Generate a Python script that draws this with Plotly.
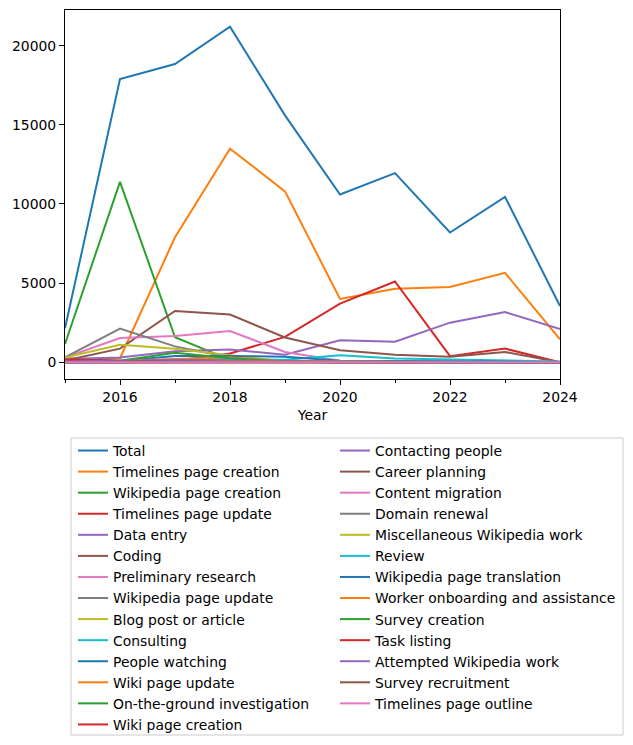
import plotly.graph_objects as go

years = [2015, 2016, 2017, 2018, 2019, 2020, 2021, 2022, 2023, 2024]

total = [2150, 17900, 18850, 21200, 15600, 10600, 11950, 8200, 10450, 3550]
timelines_page_creation = [0, 250, 7900, 13500, 10800, 4000, 4650, 4750, 5650, 1450]
wikipedia_page_creation = [1150, 11400, 1580, 150, 30, 0, 0, 0, 0, 0]
timelines_page_update = [250, 80, 100, 550, 1600, 3700, 5100, 380, 860, 0]
data_entry = [200, 300, 700, 800, 480, 1390, 1300, 2500, 3170, 2100]
coding = [100, 860, 3240, 3010, 1560, 760, 470, 350, 650, 0]
preliminary_research = [300, 1530, 1650, 1975, 650, 100, 50, 30, 20, 0]
wikipedia_page_update = [300, 2130, 1000, 300, 50, 0, 0, 0, 0, 0]
blog_post_or_article = [300, 1100, 850, 450, 30, 0, 0, 0, 0, 0]
consulting = [50, 50, 150, 200, 150, 440, 230, 180, 100, 50]
people_watching = [100, 80, 400, 400, 340, 100, 80, 60, 40, 0]
wiki_page_update = [50, 100, 200, 300, 50, 0, 0, 0, 0, 0]
on_the_ground_investigation = [100, 100, 600, 250, 50, 0, 0, 0, 0, 0]
wiki_page_creation = [150, 50, 100, 80, 50, 20, 0, 0, 0, 0]
contacting_people = [50, 100, 150, 100, 50, 40, 20, 20, 20, 0]
career_planning = [0, 50, 100, 80, 50, 30, 20, 20, 10, 0]
content_migration = [0, 0, 10, 10, 0, 0, 0, 0, 0, 0]
domain_renewal = [20, 20, 20, 20, 20, 20, 20, 20, 20, 0]
misc_wikipedia_work = [0, 30, 50, 50, 20, 0, 0, 0, 0, 0]
review = [0, 0, 0, 30, 30, 50, 30, 30, 20, 0]
wikipedia_page_translation = [0, 0, 50, 50, 30, 0, 0, 0, 0, 0]
worker_onboarding = [0, 0, 0, 50, 30, 20, 20, 10, 10, 0]
survey_creation = [0, 0, 0, 0, 10, 0, 0, 0, 0, 0]
task_listing = [0, 0, 0, 0, 0, 10, 0, 0, 0, 0]
attempted_wikipedia_work = [0, 0, 50, 20, 0, 0, 0, 0, 0, 0]
survey_recruitment = [0, 0, 0, 0, 10, 0, 0, 0, 0, 0]
timelines_page_outline = [0, 0, 0, 0, 0, 0, 0, 0, 0, 0]

series_names = [
    "Total", "Timelines page creation", "Wikipedia page creation", "Timelines page update",
    "Data entry", "Coding", "Preliminary research", "Wikipedia page update",
    "Blog post or article", "Consulting", "People watching", "Wiki page update",
    "On-the-ground investigation", "Wiki page creation", "Contacting people",
    "Career planning", "Content migration", "Domain renewal",
    "Miscellaneous Wikipedia work", "Review", "Wikipedia page translation",
    "Worker onboarding and assistance", "Survey creation", "Task listing",
    "Attempted Wikipedia work", "Survey recruitment", "Timelines page outline",
]
series_values = [
    total, timelines_page_creation, wikipedia_page_creation, timelines_page_update,
    data_entry, coding, preliminary_research, wikipedia_page_update,
    blog_post_or_article, consulting, people_watching, wiki_page_update,
    on_the_ground_investigation, wiki_page_creation, contacting_people,
    career_planning, content_migration, domain_renewal,
    misc_wikipedia_work, review, wikipedia_page_translation,
    worker_onboarding, survey_creation, task_listing,
    attempted_wikipedia_work, survey_recruitment, timelines_page_outline,
]

palette = ["#1f77b4", "#ff7f0e", "#2ca02c", "#d62728", "#9467bd",
           "#8c564b", "#e377c2", "#7f7f7f", "#bcbd22", "#17becf"]

FONT = "DejaVu Sans"
FS = 13.9

fig = go.Figure()
for i, (name, vals) in enumerate(zip(series_names, series_values)):
    fig.add_trace(go.Scatter(
        x=years, y=vals, mode="lines", name=name,
        line=dict(color=palette[i % 10], width=2),
        legend="legend" if i < 14 else "legend2",
    ))

# page body has an 8px margin; target plot box on screen: x 65..560, y 10..379
OFF = 8
W, H = 633, 745
ml = 65 - OFF
mt = 10 - OFF
mr = W - (560 - OFF)
mb = H - (379 - OFF)
pw = W - ml - mr
ph = H - mt - mb

def px_x(sx):
    return (sx - OFF - ml) / pw

def px_y(sy):
    return (H - mb - (sy - OFF)) / ph

legend_common = dict(
    font=dict(family=FONT, size=FS, color="black"),
    bgcolor="rgba(0,0,0,0)", borderwidth=0,
    xanchor="left", yanchor="top", orientation="v",
    itemclick=False, itemdoubleclick=False,
)

fig.update_layout(
    width=W, height=H,
    margin=dict(l=ml, r=mr, t=mt, b=mb, autoexpand=False),
    paper_bgcolor="white", plot_bgcolor="white",
    font=dict(family=FONT, size=FS, color="black"),
    showlegend=True,
    legend=dict(x=px_x(73), y=px_y(435), **legend_common),
    legend2=dict(x=px_x(335), y=px_y(435), **legend_common),
    xaxis=dict(
        range=[2015, 2024], tick0=2016, dtick=2, automargin=False,
        showgrid=False, zeroline=False,
        showline=True, linecolor="black", linewidth=1, mirror=True,
        ticks="outside", ticklen=5, tickcolor="black", tickwidth=1,
        minor=dict(dtick=1, tick0=2015, ticks="outside", ticklen=3, tickcolor="black", showgrid=False),
        tickfont=dict(family=FONT, size=FS, color="black"),
        title=dict(text="Year", font=dict(family=FONT, size=FS, color="black"), standoff=6),
    ),
    yaxis=dict(
        range=[-1060, 22260], tickvals=[0, 5000, 10000, 15000, 20000],
        ticktext=["0", "5000", "10000", "15000", "20000"], automargin=False,
        showgrid=False, zeroline=False,
        showline=True, linecolor="black", linewidth=1, mirror=True,
        ticks="outside", ticklen=5, tickcolor="black", tickwidth=1,
        tickfont=dict(family=FONT, size=FS, color="black"),
    ),
    shapes=[dict(
        type="rect", xref="paper", yref="paper",
        x0=px_x(71), x1=px_x(623), y0=px_y(735), y1=px_y(438),
        line=dict(color="#cccccc", width=1), fillcolor="rgba(0,0,0,0)",
    )],
)

fig.write_html("out.html")
